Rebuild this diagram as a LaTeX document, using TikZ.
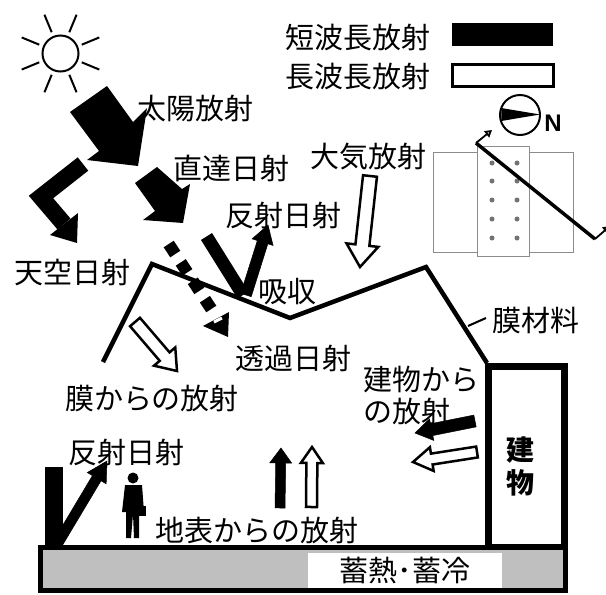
\documentclass[tikz,border=0pt]{standalone}
\usepackage{fontspec}
\setmainfont{Noto Sans CJK JP}
\newfontfamily\latinfont{Liberation Sans}
\usetikzlibrary{calc,arrows.meta}
% straight block arrow: tail, tip, (half shaft : half head : head length)
\def\fatarrow[#1](#2)(#3)(#4:#5:#6){%
	\coordinate (fa0) at (#2); \coordinate (fa1) at (#3);
	\coordinate (fah) at ($(fa1)!#6!(fa0)$);
	\draw[#1] ($(fa0)!#4!90:(fa1)$) -- ($(fah)!#4!90:(fa1)$) -- ($(fah)!#5!90:(fa1)$) -- (fa1)
		-- ($(fah)!#5!-90:(fa1)$) -- ($(fah)!#4!-90:(fa1)$) -- ($(fa0)!#4!-90:(fa1)$) -- cycle;}
\tikzset{
	lbl/.style={font=\fontsize{29}{32}\selectfont, inner sep=0pt},
	blk/.style={fill=black, draw=black, line width=0.5pt},
	wht/.style={fill=white, draw=black, line width=2.5pt, line join=miter},
}

\begin{document}
\begin{tikzpicture}[x=1pt,y=-1pt]
		%%%%% START %%%%%
		\useasboundingbox (0,0) rectangle (606,595);
		
		% ground and building
		\draw[line width=5pt, fill=black!25] (40,547) rectangle (565,590);
		\node[lbl, fill=white, minimum width=194pt, minimum height=35pt] (store) at (405,570.5) {蓄熱･蓄冷};
		\draw[line width=6.5pt, fill=white] (488.5,366.5) rectangle (564.5,547);
		\node[lbl, font=\fontsize{28}{33}\selectfont\bfseries, align=center] (bldg) at (520,466) {建\\物};
		
		% membrane roof
		\draw[line width=4.5pt, line join=miter] (103,362) -- (152,264) -- (290,318) -- (426,267) -- (487,363);
		\draw[line width=2pt] (468,326) -- (486,318);
		
		% sun
		\coordinate (sun) at (60.5,53.5);
		\draw[line width=2pt] (sun) circle (18);
		\foreach \a in {22.5,67.5,...,337.5}
			\draw[line width=2pt] ($(sun)+(\a:23)$) -- ($(sun)+(\a:42)$);
		
		% short wave arrows from the sky
		\fill (107,86) -- (133,122) -- (147,108) -- (138,166) -- (87,160) -- (99,151) -- (70,112) -- cycle;
		\fill (157,167) -- (182,189) -- (190,184) -- (183,223) -- (143,220) -- (155,211) -- (135,183) -- cycle;
		\draw[line width=17pt, line join=miter] (83,164) -- (41,197) -- (64,224);
		\fill (50,235) -- (78,213) -- (77,243) -- cycle;
		
		% transmitted
		\draw[line width=12pt, dash pattern=on 12pt off 10pt] (168.7,244) -- (211.3,309);
		\fill (203,326) -- (229,312) -- (228,337) -- cycle;
		\draw[white, line width=3pt] (214,322) -- (222,318);
		
		% reflected and absorbed at the roof
		\draw[line width=13pt] (206.5,236.5) -- (243,295);
		\fatarrow[blk](246,295)(268,225)(5.5pt:11pt:18pt)
		
		% long wave
		\fatarrow[wht](370,176)(360,267)(7pt:16pt:22pt)
		\fatarrow[wht](135,322)(177,371)(6.5pt:14pt:19pt)
		\fatarrow[blk](475,421)(415,433)(6pt:11pt:17pt)
		\fatarrow[wht](477,452)(413,462)(5.5pt:12pt:19pt)
		\fatarrow[blk](280,508)(281,448)(5pt:11pt:15pt)
		\fatarrow[wht](311.5,507)(312,447)(5.5pt:11pt:16pt)
		
		% ground reflection
		\fill (45,467) rectangle (63,546);
		\fatarrow[blk](58,543)(107,461)(5pt:11pt:20pt)
		
		% person
		\fill (133,478) circle (5.5);
		\fill (125,485) -- (142,485) -- (144,512) -- (139,512) -- (139,538) -- (134,538) -- (133,514) -- (131,538) -- (126,538) -- (126,512) -- (122,512) -- cycle;
		\fill (139,506) rectangle (146,516);
		
		% legend
		\fill (452,23) rectangle (553,46);
		\draw[line width=3pt] (452,64.5) rectangle (553,86);
		\node[lbl, anchor=east] (shortw) at (431,38) {短波長放射};
		\node[lbl, anchor=east] (longw) at (431,77) {長波長放射};
		
		% site plan
		\draw[line width=2pt] (520,115) circle (20);
		\fill (501.3,108) -- (540,114.5) -- (501.3,121) -- cycle;
		\node[font=\latinfont\bfseries\fontsize{24}{24}\selectfont, inner sep=0pt] (north) at (553,123) {N};
		\draw[black!45, line width=1pt] (433,152) rectangle (573,252);
		\draw[black!45, line width=1pt, fill=white] (477,146) rectangle (529,256);
		\foreach \y in {163,181,200,219,238}
		{
			\fill[black!55] (492,\y) circle (2.5);
			\fill[black!55] (517,\y) circle (2.5);
		}
		\draw[line width=3.5pt] (476,143) -- (595,239);
		\draw[line width=1.8pt, -{Triangle[open,length=7pt,width=8pt]}] (476,143) -- (492,130);
		\draw[line width=1.8pt, -{Triangle[open,length=7pt,width=8pt]}] (595,239) -- (610,226);
		
		% labels
		\node[lbl] (taiyou) at (195,108) {太陽放射};
		\node[lbl] (chokutatsu) at (231,168) {直達日射};
		\node[lbl] (hansha) at (283,215) {反射日射};
		\node[lbl] (tenku) at (73,272) {天空日射};
		\node[lbl] (kyushu) at (287,292) {吸収};
		\node[lbl] (taiki) at (368,157) {大気放射};
		\node[lbl] (makuzai) at (536,321) {膜材料};
		\node[lbl] (touka) at (293,358) {透過日射};
		\node[lbl] (makuhou) at (152,398) {膜からの放射};
		\node[lbl, anchor=west, align=left] (tatehou) at (363,396) {建物から\\の放射};
		\node[lbl] (hansha2) at (126,452) {反射日射};
		\node[lbl] (chihyou) at (257,530) {地表からの放射};
		
		%%%%% END %%%%%
	\end{tikzpicture}
\end{document}
